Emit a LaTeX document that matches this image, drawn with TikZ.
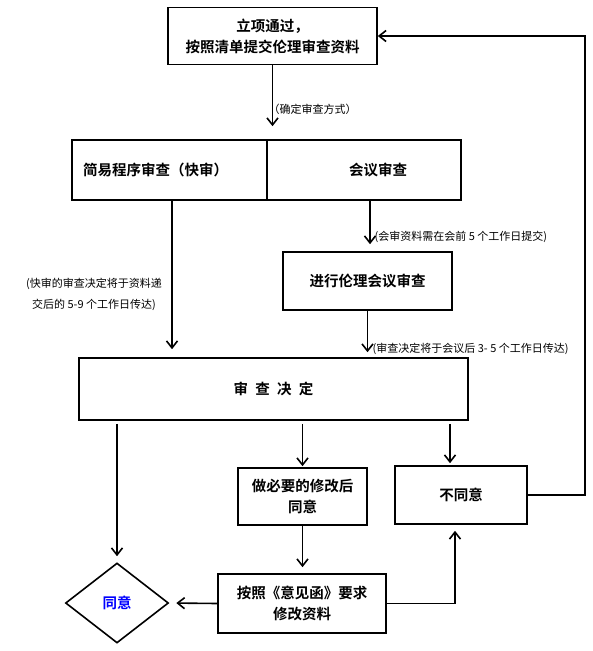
\documentclass[tikz,border=0pt]{standalone}
\usepackage{fontspec}
\setmainfont{Noto Sans CJK SC}[BoldFont={Noto Sans CJK SC Bold}]
\usepackage{tikz}
\usetikzlibrary{calc}
\usetikzlibrary{arrows.meta}
\usetikzlibrary{shapes.geometric}
\tikzstyle{boxnode}=[black, draw=black, line width=1.6pt, shape=rectangle, fill=white, inner sep=2pt, align=center, font=\fontsize{14.5}{21}\selectfont\bfseries]
\tikzstyle{diamnode}=[draw=black, line width=1.6pt, shape=diamond, fill=white, inner sep=0pt, text=blue, font=\fontsize{14.5}{21}\selectfont\bfseries]
\tikzstyle{notenode}=[shape=rectangle, inner sep=0pt, align=center, font=\fontsize{11}{21}\selectfont]

\begin{document}
\begin{tikzpicture}[x=1pt, y=-1pt]
\useasboundingbox (0,0) rectangle (593,651);
\node [boxnode, minimum width=209pt, minimum height=57pt] (start) at (272.5,36) {立项通过，\\按照清单提交伦理审查资料};
\node [boxnode, minimum width=195pt, minimum height=60pt, text width=173pt, inner xsep=11pt, align=left] (quick) at (169.5,170) {简易程序审查（快审）};
\node [boxnode, minimum width=194pt, minimum height=60pt, text width=86pt, inner xsep=54pt, align=right] (meet) at (364,170) {会议审查};
\node [boxnode, minimum width=169pt, minimum height=58pt] (meetrev) at (367.5,281) {进行伦理会议审查};
\node [boxnode, minimum width=389pt, minimum height=62pt] (decision) at (273.5,389) {审\hskip0.5em查\hskip0.5em决\hskip0.5em定};
\node [boxnode, minimum width=129pt, minimum height=57pt] (modify) at (302.5,496.5) {做必要的修改后\\同意};
\node [boxnode, minimum width=132pt, minimum height=58pt] (reject) at (461,495) {不同意};
\node [boxnode, minimum width=168pt, minimum height=59pt] (revise) at (302,603.5) {按照《意见函》要求\\修改资料};
\node [diamnode, minimum width=103pt, minimum height=80pt] (approve) at (117,603) {同意};
\coordinate (rejtop) at ($(reject.north)+(-11,0)$);
\coordinate (rejbot) at ($(reject.south)+(-6,0)$);
\coordinate (loop) at (585,36);

\draw[-{Straight Barb[length=7pt, width=11pt]}, line width=1.6pt, shorten >=13pt, color=black] (start.south) -- (start.south |- quick.north);
\draw[-{Straight Barb[length=7pt, width=11pt]}, line width=1.6pt, shorten >=8pt, color=black] ([xshift=2.5pt]quick.south) -- ([xshift=2.5pt]quick.south |- decision.north);
\draw[-{Straight Barb[length=7pt, width=11pt]}, line width=1.6pt, shorten >=7pt, color=black] ([xshift=2.5pt]meetrev.north |- meet.south) -- ([xshift=2.5pt]meetrev.north);
\draw[-{Straight Barb[length=7pt, width=11pt]}, line width=1.6pt, shorten >=5pt, color=black] (meetrev.south) -- (meetrev.south |- decision.north);
\draw[-{Straight Barb[length=7pt, width=11pt]}, line width=1.6pt, shorten <=3pt, shorten >=6pt, color=black] (approve.north |- decision.south) -- (approve.north);
\draw[-{Straight Barb[length=7pt, width=11pt]}, line width=1.6pt, shorten <=3pt, shorten >=1pt, color=black] (modify.north |- decision.south) -- (modify.north);
\draw[-{Straight Barb[length=7pt, width=11pt]}, line width=1.6pt, shorten <=3pt, shorten >=2pt, color=black] (rejtop |- decision.south) -- (rejtop);
\draw[-{Straight Barb[length=7pt, width=11pt]}, line width=1.6pt, shorten >=6pt, color=black] (modify.south) -- (modify.south |- revise.north);
\draw[-{Straight Barb[length=7pt, width=11pt]}, line width=1.6pt, shorten >=7pt, color=black] (revise.west) -- (approve.east);
\draw[-{Straight Barb[length=7pt, width=11pt]}, line width=1.6pt, shorten >=6pt, color=black] (revise.east) -| (rejbot);
\draw[-{Straight Barb[length=7pt, width=11pt]}, line width=1.6pt, color=black] (reject.east) -| (loop) -- (loop -| start.east);

\node [notenode, anchor=west] (note0) at ($(start.south)+(-4,44)$) {（确定审查方式）};
\node [notenode, anchor=west] (note1) at ($(meetrev.north)+(7,-14)$) {(会审资料需在会前 5 个工作日提交)};
\node [notenode, anchor=west] (note2) at ($(meetrev.south)+(5,38)$) {(审查决定将于会议后 3- 5 个工作日传达)};
\node [notenode] (note3) at ($(quick.south)+(-75.5,93.5)$) {(快审的审查决定将于资料递\\交后的 5-9 个工作日传达)};
\end{tikzpicture}
\end{document}
